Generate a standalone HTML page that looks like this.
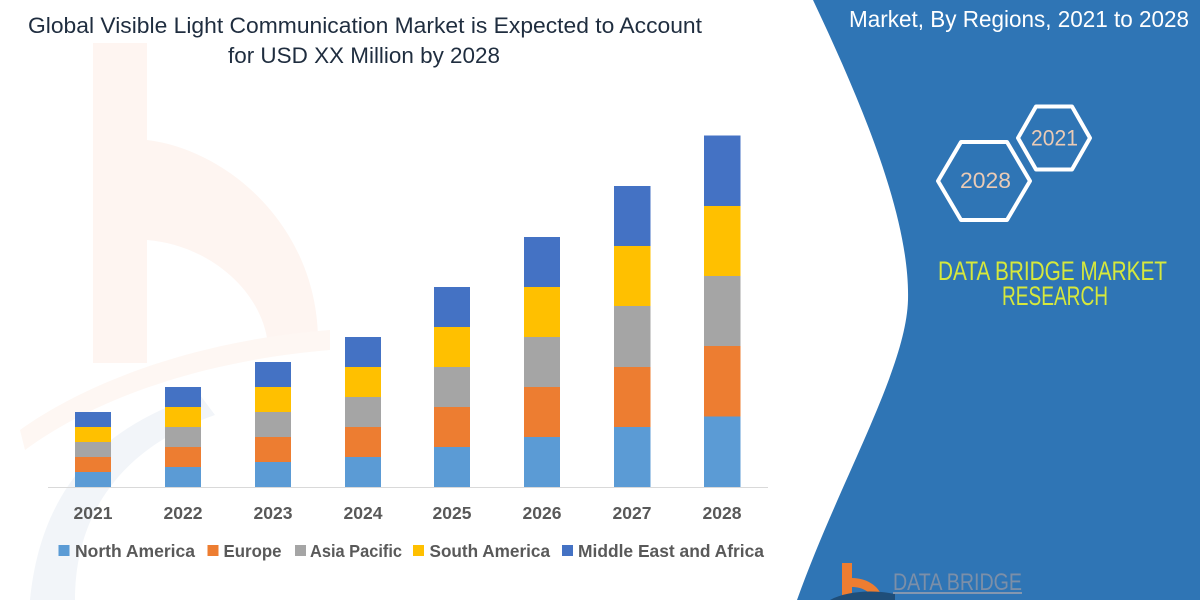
<!DOCTYPE html>
<html>
<head>
<meta charset="utf-8">
<style>
  html, body { margin: 0; padding: 0; background: #ffffff; }
  body { width: 1200px; height: 600px; overflow: hidden; }
  svg { display: block; }
  text { font-family: "Liberation Sans", "DejaVu Sans", sans-serif; }
</style>
</head>
<body>
<svg width="1200" height="600" viewBox="0 0 1200 600" xmlns="http://www.w3.org/2000/svg">
  <rect x="0" y="0" width="1200" height="600" fill="#ffffff"/>

  <!-- faint watermark logo on left -->
  <g>
    <rect x="93" y="43" width="54" height="320" fill="#FEF5F1"/>
    <path d="M147,140 C230,150 320,230 318,345 L268,345 C263,292 210,245 147,240 Z" fill="#FEF5F1"/>
    <path d="M20,430 C90,380 200,340 330,330 L330,350 C210,360 100,395 25,450 Z" fill="#FEF7F3"/>
    <path d="M30,600 C40,500 90,430 200,395 L215,415 C115,450 75,520 75,600 Z" fill="#F2F5F9"/>
  </g>

  <!-- right blue panel -->
  <path d="M813,0 C865,110 910,220 908,300 C906,370 840,480 797,600 L1200,600 L1200,0 Z" fill="#2F75B5"/>

  <!-- Title -->
  <text x="28" y="33" font-size="22" fill="#1F2D3F" textLength="674" lengthAdjust="spacingAndGlyphs">Global Visible Light Communication Market is Expected to Account</text>
  <text x="228" y="63" font-size="22" fill="#1F2D3F" textLength="272" lengthAdjust="spacingAndGlyphs">for USD XX Million by 2028</text>

  <!-- right panel title -->
  <text x="849" y="27" font-size="23" fill="#ffffff" textLength="340" lengthAdjust="spacingAndGlyphs">Market, By Regions, 2021 to 2028</text>

  <!-- hexagons -->
  <polygon points="1018,138 1036,106.5 1072,106.5 1090,138 1072,169.5 1036,169.5" fill="none" stroke="#ffffff" stroke-width="4" stroke-linejoin="round"/>
  <polygon points="938,181 961,142 1007,142 1030,181 1007,220 961,220" fill="none" stroke="#ffffff" stroke-width="4" stroke-linejoin="round"/>
  <text x="1031" y="145.5" font-size="22" fill="#EBCBB5" textLength="47" lengthAdjust="spacingAndGlyphs">2021</text>
  <text x="960" y="188" font-size="22" fill="#EBCBB5" textLength="51" lengthAdjust="spacingAndGlyphs">2028</text>

  <!-- DATA BRIDGE MARKET RESEARCH -->
  <text x="938" y="280" font-size="27" fill="#D6E83C" textLength="229" lengthAdjust="spacingAndGlyphs">DATA BRIDGE MARKET</text>
  <text x="1002" y="305" font-size="27" fill="#D6E83C" textLength="106" lengthAdjust="spacingAndGlyphs">RESEARCH</text>

  <!-- bottom logo -->
  <rect x="842" y="563" width="10" height="37" fill="#ED7D31"/>
  <path d="M852,578 C868,578 882,588 882,600 L872,600 C872,592 862,587 852,587 Z" fill="#ED7D31"/>
  <path d="M830,600 C845,592 870,589 895,594 L895,600 Z" fill="#1F4E79"/>
  <text x="893" y="590" font-size="24" fill="#7C8FA8" textLength="129" lengthAdjust="spacingAndGlyphs">DATA BRIDGE</text>
  <rect x="893" y="592" width="129" height="2" fill="#8397B0"/>

  <!-- axis line -->
  <rect x="48" y="487" width="720" height="1" fill="#D9D9D9"/>

  <!-- bars: segments bottom->top NA, EU, AP, SA, MEA -->
  <g>
    <rect x="75" y="472" width="36" height="15" fill="#5B9BD5"/>
    <rect x="75" y="457" width="36" height="15" fill="#ED7D31"/>
    <rect x="75" y="442" width="36" height="15" fill="#A5A5A5"/>
    <rect x="75" y="427" width="36" height="15" fill="#FFC000"/>
    <rect x="75" y="412" width="36" height="15" fill="#4472C4"/>
  </g>
  <g>
    <rect x="165" y="467" width="36" height="20" fill="#5B9BD5"/>
    <rect x="165" y="447" width="36" height="20" fill="#ED7D31"/>
    <rect x="165" y="427" width="36" height="20" fill="#A5A5A5"/>
    <rect x="165" y="407" width="36" height="20" fill="#FFC000"/>
    <rect x="165" y="387" width="36" height="20" fill="#4472C4"/>
  </g>
  <g>
    <rect x="255" y="462" width="36" height="25" fill="#5B9BD5"/>
    <rect x="255" y="437" width="36" height="25" fill="#ED7D31"/>
    <rect x="255" y="412" width="36" height="25" fill="#A5A5A5"/>
    <rect x="255" y="387" width="36" height="25" fill="#FFC000"/>
    <rect x="255" y="362" width="36" height="25" fill="#4472C4"/>
  </g>
  <g>
    <rect x="345" y="457" width="36" height="30" fill="#5B9BD5"/>
    <rect x="345" y="427" width="36" height="30" fill="#ED7D31"/>
    <rect x="345" y="397" width="36" height="30" fill="#A5A5A5"/>
    <rect x="345" y="367" width="36" height="30" fill="#FFC000"/>
    <rect x="345" y="337" width="36" height="30" fill="#4472C4"/>
  </g>
  <g>
    <rect x="434" y="447" width="36" height="40" fill="#5B9BD5"/>
    <rect x="434" y="407" width="36" height="40" fill="#ED7D31"/>
    <rect x="434" y="367" width="36" height="40" fill="#A5A5A5"/>
    <rect x="434" y="327" width="36" height="40" fill="#FFC000"/>
    <rect x="434" y="287" width="36" height="40" fill="#4472C4"/>
  </g>
  <g>
    <rect x="524" y="437" width="36" height="50" fill="#5B9BD5"/>
    <rect x="524" y="387" width="36" height="50" fill="#ED7D31"/>
    <rect x="524" y="337" width="36" height="50" fill="#A5A5A5"/>
    <rect x="524" y="287" width="36" height="50" fill="#FFC000"/>
    <rect x="524" y="237" width="36" height="50" fill="#4472C4"/>
  </g>
  <g>
    <rect x="614" y="427" width="36.5" height="60" fill="#5B9BD5"/>
    <rect x="614" y="367" width="36.5" height="60" fill="#ED7D31"/>
    <rect x="614" y="306" width="36.5" height="61" fill="#A5A5A5"/>
    <rect x="614" y="246" width="36.5" height="60" fill="#FFC000"/>
    <rect x="614" y="186" width="36.5" height="60" fill="#4472C4"/>
  </g>
  <g>
    <rect x="704" y="416.5" width="36.5" height="70.5" fill="#5B9BD5"/>
    <rect x="704" y="346" width="36.5" height="70.5" fill="#ED7D31"/>
    <rect x="704" y="276" width="36.5" height="70" fill="#A5A5A5"/>
    <rect x="704" y="206" width="36.5" height="70" fill="#FFC000"/>
    <rect x="704" y="135.5" width="36.5" height="70.5" fill="#4472C4"/>
  </g>

  <!-- year labels -->
  <g font-size="17.5" font-weight="bold" fill="#595959">
    <text x="73.5" y="519" textLength="39" lengthAdjust="spacingAndGlyphs">2021</text>
    <text x="163.5" y="519" textLength="39" lengthAdjust="spacingAndGlyphs">2022</text>
    <text x="253.5" y="519" textLength="39" lengthAdjust="spacingAndGlyphs">2023</text>
    <text x="343.5" y="519" textLength="39" lengthAdjust="spacingAndGlyphs">2024</text>
    <text x="432.5" y="519" textLength="39" lengthAdjust="spacingAndGlyphs">2025</text>
    <text x="522.5" y="519" textLength="39" lengthAdjust="spacingAndGlyphs">2026</text>
    <text x="612.5" y="519" textLength="39" lengthAdjust="spacingAndGlyphs">2027</text>
    <text x="702.5" y="519" textLength="39" lengthAdjust="spacingAndGlyphs">2028</text>
  </g>

  <!-- legend -->
  <rect x="58.5" y="545" width="11" height="11" fill="#5B9BD5"/>
  <rect x="207.5" y="545" width="11" height="11" fill="#ED7D31"/>
  <rect x="295" y="545" width="11" height="11" fill="#A5A5A5"/>
  <rect x="413" y="545" width="11" height="11" fill="#FFC000"/>
  <rect x="562" y="545" width="11" height="11" fill="#4472C4"/>
  <g font-size="17.3" font-weight="bold" fill="#595959">
    <text x="75" y="557" textLength="120" lengthAdjust="spacingAndGlyphs">North America</text>
    <text x="223.5" y="557" textLength="58" lengthAdjust="spacingAndGlyphs">Europe</text>
    <text x="310" y="557" textLength="92" lengthAdjust="spacingAndGlyphs">Asia Pacific</text>
    <text x="429.5" y="557" textLength="120.5" lengthAdjust="spacingAndGlyphs">South America</text>
    <text x="578" y="557" textLength="186" lengthAdjust="spacingAndGlyphs">Middle East and Africa</text>
  </g>
</svg>
</body>
</html>
